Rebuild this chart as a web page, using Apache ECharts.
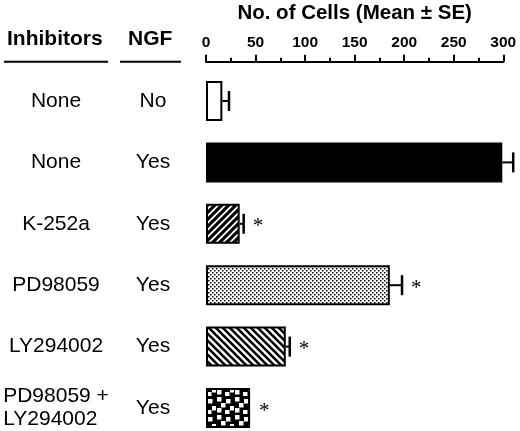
<!DOCTYPE html>
<html>
<head>
<meta charset="utf-8">
<script src="https://cdn.jsdelivr.net/npm/echarts@6/dist/echarts.min.js"></script>
<style>
html,body{margin:0;padding:0;background:#fff;}
#chart{width:520px;height:431px;}
</style>
</head>
<body>
<div id="chart"></div>
<script>
// ---- data ----
const inhibitors = ['None', 'None', 'K-252a', 'PD98059', 'LY294002', 'PD98059 +\nLY294002'];
const ngf = ['No', 'Yes', 'Yes', 'Yes', 'Yes', 'Yes'];
const meanCells = [16.5, 299, 34, 185.5, 80.5, 44.5];
const seCells = [6.7, 11, 4, 12.3, 4, 0];
const significant = [0, 0, 1, 1, 1, 1];
const xTicks = { min: 0, max: 300, interval: 50 };
const axisTitle = 'No. of Cells (Mean \u00B1 SE)';
const headerInhibitors = 'Inhibitors';
const headerNGF = 'NGF';

// ---- fill patterns ----
function makeCanvas(w, h, draw) {
  const c = document.createElement('canvas');
  c.width = w; c.height = h;
  const ctx = c.getContext('2d');
  draw(ctx, w, h);
  return c;
}
const patForward = makeCanvas(7, 7, (ctx, w, h) => {
  ctx.fillStyle = '#fff'; ctx.fillRect(0, 0, w, h);
  ctx.strokeStyle = '#000'; ctx.lineWidth = 3.1;
  for (let k = -1; k <= 1; k++) {
    ctx.beginPath(); ctx.moveTo(k * w - 1, h + 1); ctx.lineTo(k * w + w + 1, -1); ctx.stroke();
  }
});
const patBack = makeCanvas(7, 7, (ctx, w, h) => {
  ctx.fillStyle = '#fff'; ctx.fillRect(0, 0, w, h);
  ctx.strokeStyle = '#000'; ctx.lineWidth = 2.6;
  for (let k = -1; k <= 1; k++) {
    ctx.beginPath(); ctx.moveTo(k * w - 1, -1); ctx.lineTo(k * w + w + 1, h + 1); ctx.stroke();
  }
});
const patDots = makeCanvas(4, 4, (ctx, w, h) => {
  ctx.fillStyle = '#fff'; ctx.fillRect(0, 0, w, h);
  ctx.fillStyle = '#000';
  ctx.fillRect(0, 0, 1.5, 1.5);
  ctx.fillRect(2, 2, 1.5, 1.5);
});
const patChecks = makeCanvas(18, 18, (ctx, w, h) => {
  ctx.fillStyle = '#000'; ctx.fillRect(0, 0, w, h);
  ctx.fillStyle = '#fff';
  [[1, 1], [10, 3], [5, 7], [14, 10], [1, 12], [9, 14]].forEach(p => ctx.fillRect(p[0], p[1], 4.5, 4.5));
});
const fills = [
  '#fff',
  '#000',
  { image: patForward, repeat: 'repeat' },
  { image: patDots, repeat: 'repeat' },
  { image: patBack, repeat: 'repeat' },
  { image: patChecks, repeat: 'repeat' }
];

const barData = meanCells.map((v, i) => ({ value: v, itemStyle: { color: fills[i] } }));
const errData = meanCells.map((v, i) => [v, i, seCells[i], significant[i]]);

const chart = echarts.init(document.getElementById('chart'), null, { renderer: 'canvas' });
const FONT = '"Liberation Sans", Arial, Helvetica, sans-serif';

chart.setOption({
  animation: false,
  backgroundColor: '#fff',
  grid: { left: 206, width: 297.3, top: 70.3, height: 368.4, containLabel: false, outerBoundsMode: 'none' },
  xAxis: {
    type: 'value',
    position: 'top',
    offset: 8.6,
    min: xTicks.min, max: xTicks.max, interval: xTicks.interval,
    name: axisTitle,
    nameLocation: 'middle',
    nameGap: 38,
    nameTextStyle: { fontFamily: FONT, fontWeight: 'bold', fontSize: 20.5, color: '#000' },
    axisLine: { show: true, lineStyle: { color: '#000', width: 2 } },
    axisTick: { show: true, length: 7, lineStyle: { color: '#000', width: 2 } },
    minorTick: { show: true, splitNumber: 2, length: 4, lineStyle: { color: '#000', width: 2 } },
    splitLine: { show: false },
    axisLabel: { fontFamily: FONT, fontWeight: 'bold', fontSize: 15.5, color: '#000', margin: 11 }
  },
  yAxis: [
    {
      type: 'category', inverse: true, data: inhibitors,
      axisLine: { show: false }, axisTick: { show: false }, splitLine: { show: false },
      axisLabel: {
        fontFamily: FONT, fontSize: 21, color: '#000', margin: 150, align: 'center',
        lineHeight: 23,
        formatter: v => v.indexOf('\n') >= 0 ? v.split('\n').map(s => '{l|' + s + '}').join('\n') : v,
        rich: { l: { fontFamily: FONT, fontSize: 21, color: '#000', align: 'left', lineHeight: 23 } }
      }
    },
    {
      type: 'category', inverse: true, data: ngf, position: 'left',
      axisLine: { show: false }, axisTick: { show: false }, splitLine: { show: false },
      axisLabel: { fontFamily: FONT, fontSize: 21, color: '#000', margin: 53, align: 'center' }
    }
  ],
  graphic: [
    { type: 'text', left: 7, top: 29, style: { text: headerInhibitors, font: 'bold 21px ' + FONT, fill: '#000' } },
    { type: 'text', left: 128, top: 29, style: { text: headerNGF, font: 'bold 21px ' + FONT, fill: '#000' } },
    { type: 'line', shape: { x1: 4, y1: 61.7, x2: 108, y2: 61.7 }, style: { stroke: '#000', lineWidth: 2 } },
    { type: 'line', shape: { x1: 120, y1: 61.7, x2: 181, y2: 61.7 }, style: { stroke: '#000', lineWidth: 2 } }
  ],
  series: [
    {
      type: 'bar', yAxisIndex: 0, barWidth: 40, data: barData,
      itemStyle: { borderColor: '#000', borderWidth: 2 }
    },
    {
      type: 'custom', yAxisIndex: 0, data: errData, encode: { x: 0, y: 1 }, z: 5,
      renderItem: function (params, api) {
        const v = api.value(0), i = api.value(1), se = api.value(2), sig = api.value(3);
        const p0 = api.coord([v, i]);
        const p1 = api.coord([v + se, i]);
        const ch = [];
        if (se > 0) {
          ch.push({ type: 'line', shape: { x1: p0[0], y1: p0[1], x2: p1[0], y2: p1[1] }, style: { stroke: '#000', lineWidth: 2 } });
          ch.push({ type: 'line', shape: { x1: p1[0], y1: p1[1] - 10, x2: p1[0], y2: p1[1] + 10 }, style: { stroke: '#000', lineWidth: 2.5 } });
        }
        if (sig) {
          ch.push({ type: 'text', style: { text: '*', x: p1[0] + 9, y: p1[1] + 3, font: '21px "Liberation Serif", "Times New Roman", serif', fill: '#000', textAlign: 'left', textVerticalAlign: 'middle' } });
        }
        return { type: 'group', children: ch };
      }
    }
  ]
});
</script>
</body>
</html>
